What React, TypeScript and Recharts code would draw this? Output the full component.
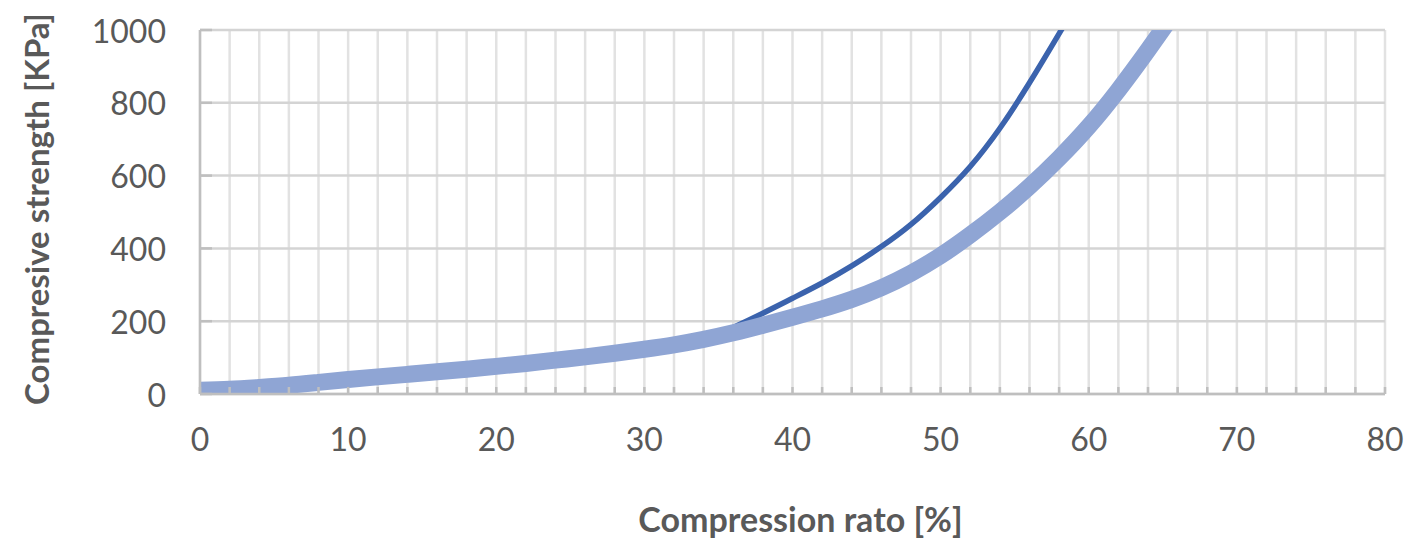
import React from 'react'
import { LineChart, Line, XAxis, YAxis, CartesianGrid } from 'recharts'

// compression ratio [%]
const ratio = [0, 2, 4, 6, 8, 10, 12, 14, 16, 18, 20, 22, 24, 26, 28, 30, 32, 34, 36, 38, 40, 42, 44, 46, 48, 50, 52, 54, 56, 58, 60, 62, 64, 66]

// thick light band
const strengthLight = [10, 13, 18, 24, 32, 40, 47, 54, 61, 68, 76, 84, 93, 102, 112, 123, 135, 150, 168, 189, 211, 234, 260, 292, 332, 380, 437, 500, 570, 648, 735, 835, 945, 1060]

// thin dark line (hidden under the band below ~34 %)
const strengthDark = [10, 13, 18, 24, 32, 40, 47, 54, 61, 68, 76, 84, 93, 102, 112, 123, 135, 150, 183, 222, 263, 305, 352, 405, 466, 540, 625, 730, 855, 990, 1128, null, null, null]

const xTicks = [0, 2, 4, 6, 8, 10, 12, 14, 16, 18, 20, 22, 24, 26, 28, 30, 32, 34, 36, 38, 40, 42, 44, 46, 48, 50, 52, 54, 56, 58, 60, 62, 64, 66, 68, 70, 72, 74, 76, 78, 80]
const yTicks = [0, 200, 400, 600, 800, 1000]

const xTitle = 'Compression rato [%]'
const yTitle = 'Compresive strength [KPa]'

const data = ratio.map((x, i) => ({ x, light: strengthLight[i], dark: strengthDark[i] }))

const FONT = 'Lato, "Open Sans", sans-serif'
const TICK_COLOR = '#595959'

const XTick = ({ x, y, payload }: any) => {
  if (payload.value % 10 !== 0) return <g />
  return (
    <text x={x} y={y} textAnchor="middle" dominantBaseline="central" fill={TICK_COLOR} fontSize={32} fontFamily={FONT}>
      {payload.value}
    </text>
  )
}

const YTick = ({ x, y, payload }: any) => (
  <text x={x} y={y} textAnchor="end" dominantBaseline="central" fill={TICK_COLOR} fontSize={32} fontFamily={FONT}>
    {payload.value}
  </text>
)

const XTitle = ({ viewBox }: any) => (
  <text
    x={viewBox.x + viewBox.width / 2 + 8}
    y={518}
    textAnchor="middle"
    dominantBaseline="central"
    fill={TICK_COLOR}
    fontSize={34}
    fontWeight="bold"
    fontFamily={FONT}
  >
    {xTitle}
  </text>
)

const YTitle = ({ viewBox }: any) => {
  const cx = 36
  const cy = viewBox.y + viewBox.height / 2 - 3
  return (
    <text
      x={cx}
      y={cy}
      transform={`rotate(-90, ${cx}, ${cy})`}
      textAnchor="middle"
      dominantBaseline="central"
      fill={TICK_COLOR}
      fontSize={33}
      fontWeight="bold"
      fontFamily={FONT}
    >
      {yTitle}
    </text>
  )
}

export default function App() {
  return (
    <div style={{ position: 'absolute', left: 0, top: 0, width: 1416, height: 545, background: '#fff' }}>
      <LineChart width={1416} height={545} data={data} margin={{ top: 30, right: 31, bottom: 0, left: 0 }}>
        <CartesianGrid horizontal={false} stroke="#e2e2e2" strokeWidth={2.5} />
        <CartesianGrid vertical={false} stroke="#d4d4d4" strokeWidth={2.5} />
        <XAxis
          dataKey="x"
          type="number"
          domain={[0, 80]}
          ticks={xTicks}
          interval={0}
          height={151}
          axisLine={{ stroke: '#bfbfbf', strokeWidth: 2.5 }}
          tickLine={{ stroke: '#bfbfbf', strokeWidth: 2.5 }}
          tickSize={-7}
          tickMargin={51}
          tick={<XTick />}
          label={<XTitle />}
        />
        <YAxis
          type="number"
          domain={[0, 1000]}
          ticks={yTicks}
          allowDataOverflow
          width={200}
          axisLine={{ stroke: '#bfbfbf', strokeWidth: 2.5 }}
          tickLine={{ stroke: '#bfbfbf', strokeWidth: 2.5 }}
          tickSize={-12}
          tickMargin={46}
          tick={<YTick />}
          label={<YTitle />}
        />
        <Line
          type="natural"
          dataKey="dark"
          stroke="#3b63ad"
          strokeWidth={5.5}
          dot={false}
          isAnimationActive={false}
        />
        <Line
          type="natural"
          dataKey="light"
          stroke="#8fa5d4"
          strokeWidth={17}
          dot={false}
          isAnimationActive={false}
        />
      </LineChart>
    </div>
  )
}
